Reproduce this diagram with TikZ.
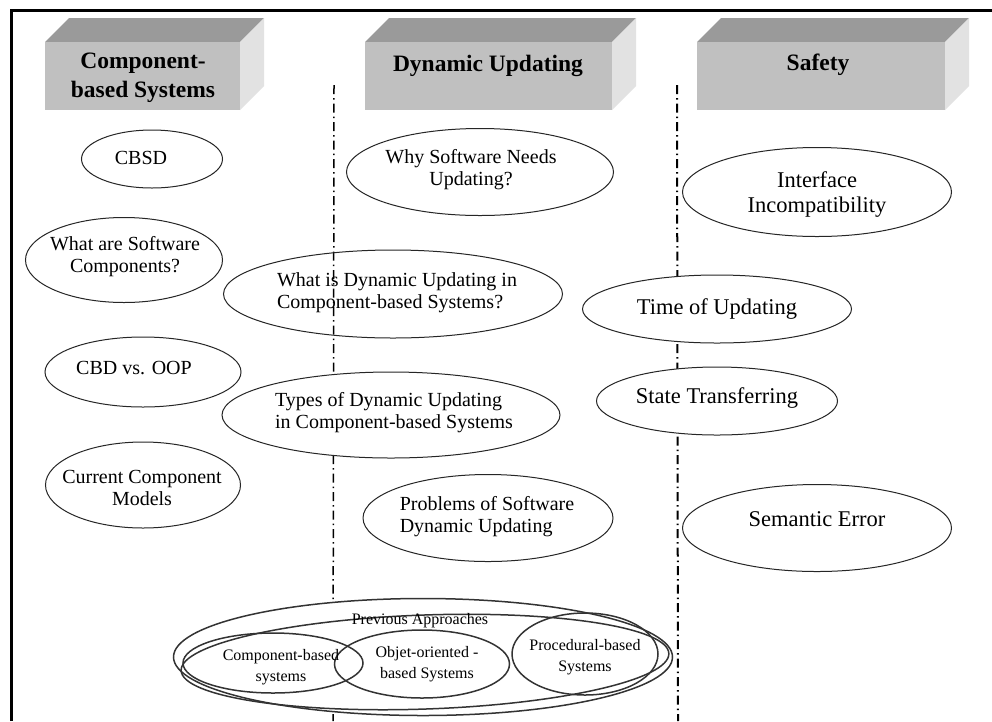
\documentclass[tikz,border=0pt]{standalone}
\usepackage{fontspec}
\setmainfont{Liberation Serif}
\usetikzlibrary{shapes.geometric}
\definecolor{topc}{HTML}{9A9A9A}
\definecolor{frontc}{HTML}{C0C0C0}
\definecolor{sidec}{HTML}{E2E2E2}
\begin{document}
\begin{tikzpicture}[x=1pt,y=-1pt,
  ell/.style={draw=black!85, line width=1pt, ellipse, inner sep=0pt, fill=white},
  ellnf/.style={draw=black!85, line width=1pt, ellipse, inner sep=0pt},
  bell/.style={draw=black!80, line width=1.5pt, ellipse, inner sep=0pt},
  txt/.style={font=\fontsize{20}{22}\selectfont, align=center, inner sep=0pt},
  txtl/.style={font=\fontsize{20}{22}\selectfont, align=left, inner sep=0pt},
  txtr/.style={font=\fontsize{22.5}{25}\selectfont, align=center, inner sep=0pt},
  txts/.style={font=\fontsize{16}{21.5}\selectfont, align=center, inner sep=0pt},
  head/.style={font=\fontsize{23.5}{29}\selectfont\bfseries, align=center, inner sep=0pt},
  sepline/.style={dash pattern=on 9pt off 4pt on 1.5pt off 4pt},
]
\useasboundingbox (0,0) rectangle (992,721);
\fill[white] (0,0) rectangle (992,721);
% frame
\draw[line width=3pt] (11.5,721) -- (11.5,10) -- (992,10);
% blocks
\foreach \a/\b in {45/240, 365/612, 697/945} {
  \fill[topc] (\a,42) -- (\a+24,18) -- (\b+24,18) -- (\b,42) -- cycle;
  \fill[frontc] (\a,42) rectangle (\b,110);
  \fill[sidec] (\b,42) -- (\b+24,18) -- (\b+24,86) -- (\b,110) -- cycle;
}
\node[head] (h1) at (143,78) {Component-\\based Systems};
\node[head] (h2) at (488,65.5) {Dynamic Updating};
\node[head] (h3) at (818,65) {Safety};
% separators
\coordinate (s1t) at (334,85);
\coordinate (s1b) at (333,721);
\coordinate (s2t) at (677,85);
\coordinate (s2b) at (678,721);
\draw[sepline, line width=1.5pt] (s1t) -- (s1b);
\draw[sepline, line width=2pt] (s2t) -- (s2b);
% left column
\node[ell, minimum width=141pt, minimum height=58pt] (cbsd) at (152,159) {};
\node[txt] (tcbsd) at (141,158) {CBSD};
\node[ell, minimum width=197pt, minimum height=85pt] (wasc) at (124,260) {};
\node[txt] (twasc) at (125,257) {What are Software\\Components?};
\node[ell, minimum width=196pt, minimum height=70pt] (cbd) at (143,372) {};
\node[txt] (tcbd) at (134,368) {CBD vs. OOP};
\node[ell, minimum width=195pt, minimum height=86pt] (ccm) at (143,485) {};
\node[txt] (tccm) at (142,488) {Current Component\\Models};
% middle column
\node[ell, minimum width=267pt, minimum height=87pt] (why) at (480,172) {};
\node[txt] (twhy) at (471,170) {Why Software Needs\\Updating?};
\node[ellnf, minimum width=339pt, minimum height=88pt] (whatis) at (393,294) {};
\node[txtl] (twhatis) at (397,293) {What is Dynamic Updating in\\Component-based Systems?};
\node[ell, minimum width=338pt, minimum height=86pt] (types) at (391,415) {};
\node[txtl] (ttypes) at (394,413) {Types of Dynamic Updating\\in Component-based Systems};
\node[ell, minimum width=250pt, minimum height=87pt] (prob) at (488,518) {};
\node[txtl] (tprob) at (487,517) {Problems of Software\\Dynamic Updating};
% right column
\node[ell, minimum width=269pt, minimum height=89pt] (ii) at (817,192) {};
\node[txtr] (tii) at (817,194) {Interface\\Incompatibility};
\node[ell, minimum width=269pt, minimum height=68pt] (tou) at (717,309) {};
\node[txtr] (ttou) at (717,309) {Time of Updating};
\node[ell, minimum width=241pt, minimum height=68pt] (st) at (717,401) {};
\node[txtr] (tst) at (717,398) {State Transferring};
\node[ell, minimum width=269pt, minimum height=87pt] (se) at (817,528) {};
\node[txtr] (tse) at (817,519) {Semantic Error};
% previous approaches
\node[bell, fill=white, minimum width=499pt, minimum height=117pt] (prev) at (423,657) {};
\node[bell, rotate=2, minimum width=488pt, minimum height=94pt] (prev2) at (425,662) {};
\node[txts] (tprev) at (420,621) {Previous Approaches};
\node[bell, minimum width=180pt, minimum height=60pt] (cbs) at (273,663) {};
\node[bell, minimum width=175pt, minimum height=68pt] (oo) at (422,664) {};
\node[bell, minimum width=146pt, minimum height=82pt] (pbs) at (585,654) {};
\node[txts] (tcbs) at (281,667) {Component-based\\systems};
\node[txts] (too) at (427,664) {Objet-oriented -\\based Systems};
\node[txts] (tpbs) at (585,657) {Procedural-based\\Systems};
\end{tikzpicture}
\end{document}
